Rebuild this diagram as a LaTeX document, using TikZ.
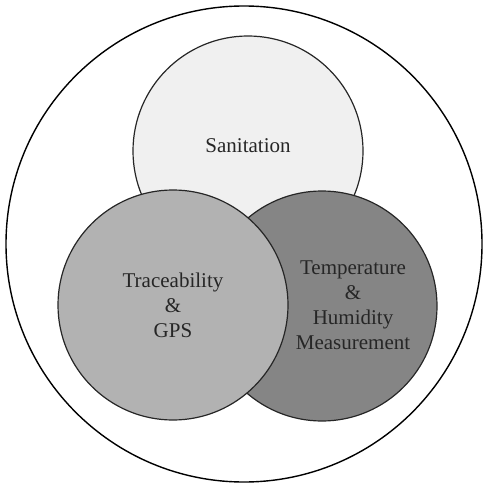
\documentclass[tikz,border=0pt]{standalone}
\usepackage{fontspec}
\setmainfont{Liberation Serif}
\begin{document}
\begin{tikzpicture} [x=0.5pt, y=-0.5pt, font=\fontsize{10.5}{12.5}\selectfont, line join=round,
 ring/.style={circle, draw=black!85, line width=0.6pt, inner sep=0pt, minimum size=115pt}]
 \useasboundingbox (0,0) rectangle (482,486);
 \node[circle, draw, line width=0.7pt, inner sep=0pt, minimum size=238pt] (all) at (244,244) {};
 \node[ring, fill=black!6] (san) at (248,151) {};
 \node[ring, fill=black!48] (temp) at (322,306) {};
 \node[ring, fill=black!30] (trace) at (173,305) {};
 \node[text=black!85] at (248,146) {Sanitation};
 \node[align=center, text=black!85] at (173,305) {Traceability\\\&\\GPS};
 \node[align=center, text=black!85] at (353,305) {Temperature\\\&\\Humidity\\Measurement};
\end{tikzpicture}
\end{document}
